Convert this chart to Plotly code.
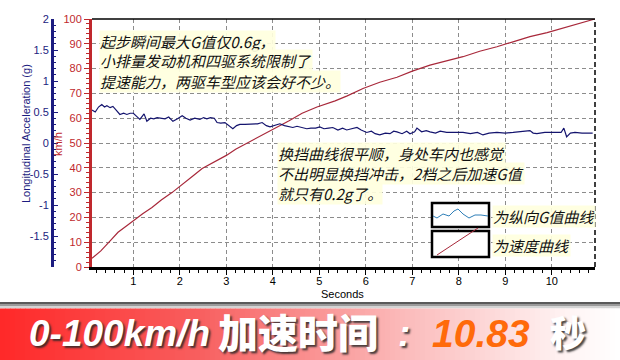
import plotly.graph_objects as go

# ---------------- data ----------------
g_time = [0.11, 0.18, 0.25, 0.32, 0.38, 0.43, 0.50, 0.56, 0.63, 0.71, 0.79, 0.86, 0.93, 1.00,
          1.07, 1.14, 1.23, 1.29, 1.37, 1.44, 1.51, 1.58, 1.68, 1.76, 1.85, 1.95, 2.05, 2.13,
          2.22, 2.32, 2.43, 2.51, 2.58, 2.66, 2.74, 2.80, 2.88, 2.97, 3.05, 3.14, 3.22, 3.29,
          3.40, 3.50, 3.57, 3.67, 3.77, 3.86, 3.94, 4.04, 4.15, 4.25, 4.34, 4.43, 4.52, 4.62,
          4.73, 4.82, 4.92, 5.01, 5.10, 5.20, 5.29, 5.40, 5.50, 5.59, 5.70, 5.81, 5.90, 6.02,
          6.12, 6.20, 6.30, 6.42, 6.52, 6.60, 6.67, 6.78, 6.88, 6.95, 7.05, 7.10, 7.20, 7.30,
          7.38, 7.50, 7.60, 7.74, 7.90, 8.09, 8.25, 8.40, 8.52, 8.65, 8.82, 9.00, 9.17, 9.35,
          9.53, 9.60, 9.68, 9.85, 10.05, 10.20, 10.26, 10.32, 10.40, 10.50, 10.65, 10.88]
g_accel = [0.53, 0.50, 0.58, 0.62, 0.58, 0.60, 0.57, 0.59, 0.53, 0.46, 0.48, 0.46, 0.48, 0.48,
           0.43, 0.38, 0.47, 0.35, 0.40, 0.39, 0.41, 0.40, 0.39, 0.42, 0.35, 0.39, 0.44, 0.40,
           0.37, 0.40, 0.38, 0.41, 0.39, 0.41, 0.40, 0.33, 0.32, 0.33, 0.28, 0.23, 0.28, 0.30,
           0.30, 0.30, 0.30, 0.31, 0.33, 0.28, 0.26, 0.29, 0.31, 0.28, 0.27, 0.25, 0.27, 0.25,
           0.23, 0.24, 0.24, 0.26, 0.23, 0.24, 0.25, 0.21, 0.24, 0.21, 0.23, 0.25, 0.21, 0.17,
           0.19, 0.15, 0.13, 0.16, 0.15, 0.19, 0.18, 0.15, 0.19, 0.15, 0.18, 0.24, 0.18, 0.20,
           0.18, 0.16, 0.19, 0.17, 0.17, 0.17, 0.15, 0.17, 0.13, 0.16, 0.17, 0.16, 0.17, 0.18,
           0.20, 0.16, 0.15, 0.17, 0.17, 0.17, 0.24, 0.10, 0.16, 0.17, 0.16, 0.16]

v_time = [0.11, 0.30, 0.50, 0.67, 0.85, 1.04, 1.20, 1.40, 1.60, 1.83, 2.11, 2.30, 2.48, 2.65,
          2.82, 3.00, 3.20, 3.55, 3.80, 4.11, 4.35, 4.63, 4.95, 5.34, 5.60, 5.94, 6.30, 6.67,
          7.00, 7.38, 7.70, 8.09, 8.45, 8.82, 9.20, 9.53, 9.90, 10.24, 10.55, 10.88, 10.93]
v_speed = [3.5, 6.5, 10.5, 14.0, 16.5, 19.4, 21.5, 24.0, 27.0, 30.0, 34.0, 37.0, 39.7, 41.5,
           43.0, 45.0, 47.5, 51.0, 53.5, 56.4, 59.0, 62.0, 64.5, 67.0, 69.0, 72.0, 74.5, 76.5,
           79.0, 81.4, 83.0, 84.8, 87.0, 88.8, 91.0, 92.9, 94.5, 96.3, 97.8, 99.6, 100.0]

x_range = [0.11, 10.93]
speed_ticks = [0, 10, 20, 30, 40, 50, 60, 70, 80, 90, 100]
g_ticks = [-1.5, -1, -0.5, 0, 0.5, 1, 1.5, 2]
g_ticktext = ["-1.5", "-1", "-0.5", "0", "0.5", "1", "1.5", "2"]

note1 = ["起步瞬间最大G值仅0.6g，", "小排量发动机和四驱系统限制了", "提速能力，两驱车型应该会好不少。"]
note2 = ["换挡曲线很平顺，身处车内也感觉", "不出明显换挡冲击，2档之后加速G值", "就只有0.2g了。"]
legend_labels = ["为纵向G值曲线", "为速度曲线"]

# ---------------- geometry helpers ----------------
W, H = 620, 360
L, R, T, B = 0, 25, 19, 93
PW, PH = W - L - R, H - T - B


def px(x):
    return (x - L) / PW


def py(y):
    return (H - B - y) / PH


RED = "#c0282d"
BLUE = "#1c1c80"
LINE_RED = "#a8283a"
LINE_BLUE = "#14146e"
LATIN = "Liberation Sans, Arial, sans-serif"
TICKFONT = dict(family=LATIN, size=11)
CJK = "Noto Sans CJK SC"

fig = go.Figure()
fig.add_trace(go.Scatter(x=v_time, y=v_speed, mode="lines", yaxis="y",
                         line=dict(color=LINE_RED, width=1.2), showlegend=False))
fig.add_trace(go.Scatter(x=g_time, y=g_accel, mode="lines", yaxis="y2",
                         line=dict(color=LINE_BLUE, width=1.2), showlegend=False))

shapes = []
# banner shadow band
for (y0, y1, c) in [(302, 304, "#5a5a5a"), (304, 306, "#9a9a9a"), (306, 308.5, "#d4d4d4")]:
    shapes.append(dict(type="rect", xref="paper", yref="paper", x0=px(0), x1=px(620),
                       y0=py(y1), y1=py(y0), line=dict(width=0), fillcolor=c, layer="below"))
# banner red gradient
stops = [(0, (255, 40, 40)), (200, (248, 95, 95)), (400, (251, 185, 185)),
         (500, (253, 220, 220)), (570, (255, 244, 244)), (620, (255, 255, 255))]


def grad(x):
    for i in range(len(stops) - 1):
        a, ca = stops[i]
        b, cb = stops[i + 1]
        if a <= x <= b:
            f = (x - a) / (b - a)
            return "rgb(%d,%d,%d)" % tuple(round(ca[k] + f * (cb[k] - ca[k])) for k in range(3))
    return "rgb(255,255,255)"


step = 5
for xs in range(0, 620, step):
    shapes.append(dict(type="rect", xref="paper", yref="paper", x0=px(xs), x1=px(xs + step + 0.5),
                       y0=py(360), y1=py(308.5), line=dict(width=0),
                       fillcolor=grad(xs + step / 2), layer="below"))
# top border and right dashed border
shapes.append(dict(type="line", xref="paper", yref="paper", x0=px(92), x1=1, y0=1, y1=1,
                   line=dict(color="black", width=1.5)))
shapes.append(dict(type="line", xref="paper", yref="paper", x0=1, x1=1, y0=0, y1=1,
                   line=dict(color="black", width=1.5, dash="5px,3px")))
# legend boxes
for (y0, y1) in [(203, 227), (231, 257)]:
    shapes.append(dict(type="rect", xref="paper", yref="paper", x0=px(432), x1=px(489),
                       y0=py(y1), y1=py(y0), line=dict(color="black", width=2.5),
                       fillcolor="white"))
wave = [(433, 216), (437, 218), (443, 214), (449, 216), (454, 211), (458, 209), (463, 214),
        (469, 218), (475, 215), (481, 215), (488, 216)]
path = "M " + " L ".join("%f,%f" % (px(a), py(b)) for a, b in wave)
shapes.append(dict(type="path", xref="paper", yref="paper", path=path,
                   line=dict(color="#2f7fb8", width=1)))
shapes.append(dict(type="line", xref="paper", yref="paper", x0=px(437), y0=py(255),
                   x1=px(478), y1=py(228), line=dict(color=LINE_RED, width=1)))

annotations = []


def ann(text, x, y, xanchor="center", **kw):
    d = dict(text=text, xref="paper", yref="paper", x=px(x), y=py(y), xanchor=xanchor,
             yanchor="middle", showarrow=False)
    d.update(kw)
    annotations.append(d)


# axis titles
ann("Longitudinal Acceleration (g)", 26, 134, textangle=-90,
    font=dict(family=LATIN, size=11, color=BLUE))
ann("km/h", 58, 144, textangle=-90, font=dict(family=LATIN, size=11, color=RED))
ann("Seconds", 342, 294, font=dict(family=LATIN, size=11, color="black"))

note_font = dict(family=CJK, size=15, color="#111111", style="italic")
NOTE_BG = "rgba(255,255,222,0.92)"
for i, t in enumerate(note1):
    ann(t, 99, 41 + 20 * i, xanchor="left", font=note_font, bgcolor=NOTE_BG, borderpad=0)
for i, t in enumerate(note2):
    ann(t, 277, 153 + 20 * i, xanchor="left", font=note_font, bgcolor=NOTE_BG, borderpad=0)
for t, yy in zip(legend_labels, [216, 245]):
    ann(t, 492, yy, xanchor="left", font=note_font, bgcolor=NOTE_BG, borderpad=0)

# banner text
shadow = "2px 2px 2px rgba(40,40,40,0.85)"
ann("0-100km/h", 27, 333, xanchor="left",
    font=dict(family=LATIN, size=37, color="white", weight=900, style="italic", shadow=shadow))
ann("加速时间", 216, 330.5, xanchor="left",
    font=dict(family=CJK, size=40, color="white", weight=900, shadow=shadow))
ann(":", 396, 333, xanchor="left",
    font=dict(family=LATIN, size=37, color="white", weight=900, style="italic", shadow=shadow))
ann("10.83", 430, 333, xanchor="left",
    font=dict(family=LATIN, size=39, color="#ff6a0a", weight=900, style="italic"))
ann("秒", 548, 331, xanchor="left",
    font=dict(family=CJK, size=36, color="white", weight=900, shadow=shadow))

fig.update_layout(
    width=W, height=H,
    margin=dict(l=L, r=R, t=T, b=B, pad=0),
    paper_bgcolor="white", plot_bgcolor="white",
    showlegend=False,
    xaxis=dict(domain=[px(92), 1], range=x_range, dtick=1, tick0=0,
               showline=True, linecolor="black", linewidth=3, mirror=False,
               ticks="outside", ticklen=5, tickcolor="black", tickwidth=1,
               ticklabelstandoff=-3,
               minor=dict(ticks="outside", ticklen=3, dtick=0.2, tickcolor="black", showgrid=False),
               showgrid=True, gridcolor="#8c8c8c", griddash="4px,3px", gridwidth=1,
               zeroline=False, tickfont=dict(color="black", **TICKFONT)),
    yaxis=dict(range=[0, 100], tickvals=speed_ticks, side="left",
               showline=True, linecolor=RED, linewidth=3,
               ticks="outside", ticklen=5, tickcolor=RED, tickwidth=1,
               minor=dict(ticks="outside", ticklen=3, dtick=2, tickcolor=RED, showgrid=False),
               showgrid=True, gridcolor="#8c8c8c", griddash="4px,3px", gridwidth=1,
               zeroline=False, tickfont=dict(color=RED, **TICKFONT)),
    yaxis2=dict(range=[-2, 2], overlaying="y", anchor="free", position=px(52), side="left",
                tickvals=g_ticks, ticktext=g_ticktext,
                showline=True, linecolor=BLUE, linewidth=3,
                ticks="inside", ticklen=4, tickcolor=BLUE, tickwidth=1,
                minor=dict(ticks="inside", ticklen=2, dtick=0.1, tickcolor=BLUE, showgrid=False),
                showgrid=False, zeroline=False, tickfont=dict(color=BLUE, **TICKFONT)),
    shapes=shapes,
    annotations=annotations,
)

fig.write_html("out.html")
